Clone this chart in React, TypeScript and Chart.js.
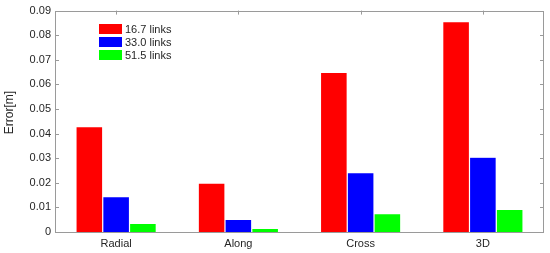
import React, { useEffect, useRef } from "react";
import { Chart, registerables } from "chart.js";

Chart.register(...registerables);

const categories = ["Radial", "Along", "Cross", "3D"];
const seriesLabels = ["16.7 links", "33.0 links", "51.5 links"];
const links167 = [0.0428, 0.0199, 0.0649, 0.0855];
const links330 = [0.0144, 0.0051, 0.0241, 0.0304];
const links515 = [0.0035, 0.0015, 0.0075, 0.0092];
const seriesColors = ["#ff0000", "#0000ff", "#00ff00"];
const yMin = 0;
const yMax = 0.09;
const yStep = 0.01;
const yTitle = "Error[m]";

const FONT = "Arial, 'Liberation Sans', Helvetica, sans-serif";
const TEXT = "#262626";
const AXIS = "#9a9a9a";

const framePlugin = {
  id: "frame",
  beforeDatasetsDraw(chart: any) {
    const { ctx, chartArea } = chart;
    const { left, right, top, bottom } = chartArea;
    const y = chart.scales.y;
    const x = chart.scales.x;
    ctx.save();
    ctx.strokeStyle = AXIS;
    ctx.lineWidth = 1;
    ctx.strokeRect(Math.round(left) + 0.5, Math.round(top) + 0.5, Math.round(right - left) - 1, Math.round(bottom - top));
    ctx.beginPath();
    y.ticks.forEach((t: any) => {
      const py = Math.round(y.getPixelForValue(t.value)) + 0.5;
      ctx.moveTo(left, py);
      ctx.lineTo(left + 4, py);
      ctx.moveTo(right, py);
      ctx.lineTo(right - 4, py);
    });
    categories.forEach((_, i) => {
      const px = Math.round(x.getPixelForValue(i)) + 0.5;
      ctx.moveTo(px, top);
      ctx.lineTo(px, top + 4);
      ctx.moveTo(px, bottom);
      ctx.lineTo(px, bottom - 4);
    });
    ctx.stroke();
    ctx.restore();
  },
  afterDraw(chart: any) {
    const { ctx } = chart;
    ctx.save();
    // y title
    ctx.fillStyle = TEXT;
    ctx.font = `12px ${FONT}`;
    ctx.translate(10, 112.5);
    ctx.rotate(-Math.PI / 2);
    ctx.textAlign = "center";
    ctx.textBaseline = "middle";
    ctx.fillText(yTitle, 0, 0);
    ctx.restore();
    // legend
    ctx.save();
    ctx.font = `11px ${FONT}`;
    ctx.textAlign = "left";
    ctx.textBaseline = "middle";
    chart.data.datasets.forEach((ds: any, i: number) => {
      const cy = 29 + i * 13;
      ctx.fillStyle = ds.backgroundColor;
      ctx.fillRect(99, cy - 5, 23, 10);
      ctx.fillStyle = TEXT;
      ctx.fillText(ds.label, 125, cy + 0.5);
    });
    ctx.restore();
  },
};

export default function App() {
  const ref = useRef<HTMLCanvasElement>(null);
  useEffect(() => {
    document.body.style.margin = "0";
    const canvas = ref.current!;
    const seriesData = [links167, links330, links515];
    const chart = new Chart(canvas, {
      type: "bar",
      data: {
        labels: categories,
        datasets: seriesData.map((d, i) => ({
          label: seriesLabels[i],
          data: d,
          backgroundColor: seriesColors[i],
          borderColor: "rgba(255,255,255,0.5)",
          borderWidth: 0.6,
          categoryPercentage: 0.657,
          barPercentage: 1,
        })),
      },
      options: {
        responsive: false,
        animation: false,
        layout: { padding: { top: 9, right: 6, left: 0, bottom: 0 } },
        plugins: {
          legend: { display: false },
          tooltip: { enabled: false },
        },
        scales: {
          x: {
            offset: true,
            grid: { display: false, drawTicks: false },
            border: { display: false },
            ticks: { font: { size: 11, family: FONT }, color: TEXT, padding: 5, maxRotation: 0 },
            afterFit: (s: any) => {
              s.height = 21;
            },
          },
          y: {
            min: yMin,
            max: yMax,
            grid: { display: false, drawTicks: false },
            border: { display: false },
            ticks: {
              stepSize: yStep,
              font: { size: 11, family: FONT },
              color: TEXT,
              padding: 4,
              callback: (v: any) => (Number(v) === 0 ? "0" : Number(v).toFixed(2)),
            },
            afterFit: (s: any) => {
              s.width = 55;
            },
          },
        },
      },
      plugins: [framePlugin],
    });
    return () => chart.destroy();
  }, []);
  return (
    <div style={{ width: 550, height: 253, background: "#fff" }}>
      <canvas ref={ref} width={550} height={253} style={{ display: "block" }} />
    </div>
  );
}
